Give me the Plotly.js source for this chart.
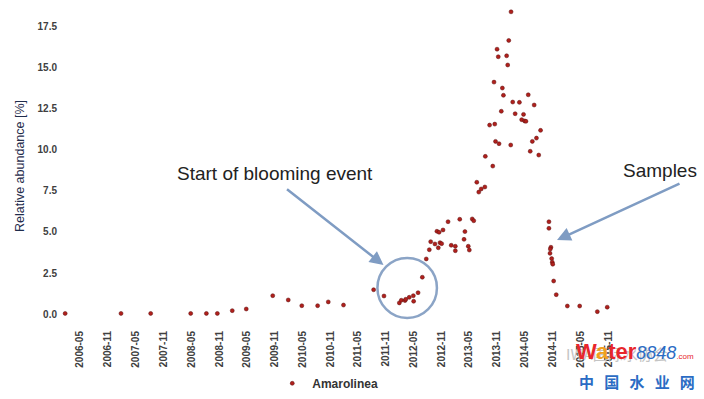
<!DOCTYPE html>
<html>
<head>
<meta charset="utf-8">
<script src="https://cdn.plot.ly/plotly-3.0.1.min.js"></script>
<style>
html,body{margin:0;padding:0;background:#fff;}
#chart{width:704px;height:399px;}
</style>
</head>
<body>
<div id="chart"></div>
<script>
// Sampling dates
const sampleDates = [
  '2006-01-23','2007-01-25','2007-08-08','2008-04-27','2008-08-08','2008-10-19','2009-01-25','2009-04-27',
  '2009-10-18','2010-01-28','2010-04-27','2010-08-09','2010-10-18','2011-01-26','2011-08-12','2011-10-19',
  '2012-01-28','2012-02-10','2012-03-05','2012-03-10','2012-04-02','2012-04-29','2012-05-01','2012-05-30',
  '2012-06-27','2012-07-23','2012-08-12','2012-08-21','2012-09-18','2012-10-01','2012-10-10','2012-10-15',
  '2012-10-21','2012-11-01','2012-11-10','2012-12-13','2013-01-03','2013-01-30','2013-01-30','2013-02-28',
  '2013-03-28','2013-04-03','2013-04-25','2013-05-02','2013-05-21','2013-05-31','2013-06-20','2013-07-03',
  '2013-07-19','2013-08-12','2013-08-15','2013-09-12','2013-10-03','2013-10-11','2013-10-16','2013-10-21',
  '2013-10-31','2013-11-08','2013-11-13','2013-11-28','2013-12-05','2013-12-12','2014-01-02','2014-01-09',
  '2014-01-16','2014-01-29','2014-01-31','2014-02-11','2014-02-27','2014-03-27','2014-04-11','2014-04-23',
  '2014-04-30','2014-05-09','2014-05-24','2014-06-06','2014-06-20','2014-07-02','2014-07-17','2014-08-01',
  '2014-08-13',
  '2014-10-07','2014-10-07','2014-10-20','2014-10-16','2014-10-14','2014-10-25','2014-10-29','2014-11-01',
  '2014-11-07','2014-11-24','2015-02-05','2015-04-27','2015-08-21','2015-10-25'
];
// Relative abundance of Amarolinea [%]
const amarolinea = [
  0.05,0.05,0.05,0.05,0.05,0.05,0.22,0.32,
  1.13,0.87,0.52,0.52,0.75,0.56,1.49,1.11,
  0.69,0.85,0.83,0.91,1.03,1.13,0.79,1.31,
  2.25,3.36,3.92,4.41,4.27,5.04,4.04,4.98,
  4.35,4.29,5.12,5.62,4.19,4.13,3.86,5.77,
  4.55,5.02,4.13,3.90,5.79,5.68,8.02,7.42,
  7.61,7.73,9.59,11.49,9.00,14.10,11.55,10.50,
  16.10,15.64,10.36,12.33,13.74,13.30,15.70,15.14,
  16.63,10.28,18.37,12.89,12.18,12.87,11.82,12.14,
  11.74,11.72,13.33,9.90,10.50,12.71,10.70,9.67,
  11.17,
  5.62,5.22,4.07,3.96,3.70,3.38,3.16,3.04,
  2.02,1.19,0.50,0.50,0.16,0.43
];
// Tick labels (every six months)
const tickLabels = [
  '2006-05','2006-11','2007-05','2007-11','2008-05','2008-11','2009-05','2009-11','2010-05','2010-11',
  '2011-05','2011-11','2012-05','2012-11','2013-05','2013-11','2014-05','2014-11','2015-05','2015-11'
];
const yTicks = [0, 2.5, 5, 7.5, 10, 12.5, 15, 17.5];

const arrowColor = '#7f9cc3';
const textFont = {family: 'Liberation Sans, Arial, sans-serif', size: 19, color: '#222'};

const trace = {
  type: 'scatter',
  mode: 'markers',
  name: 'Amarolinea',
  x: sampleDates,
  y: amarolinea,
  marker: {size: 4, color: '#b0201c', line: {color: '#5a0e0e', width: 0.5}},
  cliponaxis: false
};

const layout = {
  width: 704, height: 399,
  margin: {l: 58, r: 84, t: 10, b: 77, autoexpand: false},
  paper_bgcolor: '#fff', plot_bgcolor: '#fff',
  font: {family: 'Liberation Sans, Arial, sans-serif', color: '#3a3a3a'},
  showlegend: true,
  legend: {
    orientation: 'h', x: 0.48, xanchor: 'center', y: -0.15, yanchor: 'top',
    font: {size: 12, weight: 'bold', color: '#333'}, itemwidth: 30
  },
  xaxis: {
    type: 'date',
    range: ['2005-12-07', '2016-01-17'],
    tickmode: 'array', tickvals: tickLabels, ticktext: tickLabels,
    tickangle: -90, showgrid: false, zeroline: false, showline: false, ticks: '',
    tickfont: {size: 10, weight: 'bold', color: '#404040'},
    ticklabelstandoff: 6, automargin: false
  },
  yaxis: {
    range: [-0.47, 18.48],
    tickmode: 'array', tickvals: yTicks, tickformat: '.1f',
    showgrid: false, zeroline: false, showline: false, ticks: '',
    tickfont: {size: 10, weight: 'bold', color: '#404040'},
    automargin: false,
    title: {text: 'Relative abundance [%]', font: {size: 12.5, color: '#1f2c4c'}, standoff: 10}
  },
  shapes: [
    {type: 'circle', xref: 'x', yref: 'y', x0: '2011-09-06', x1: '2012-10-01', y0: -0.22, y1: 3.42,
     line: {color: '#8ba4c6', width: 2.5}}
  ],
  annotations: [
    {xref: 'x', yref: 'y', x: '2009-11-01', y: 8.58, text: 'Start of blooming event', showarrow: false, font: textFont},
    {xref: 'paper', yref: 'paper', x: 1.071, y: 0.487, xanchor: 'center', yanchor: 'middle', text: 'Samples', showarrow: false, font: textFont},
    {xref: 'x', yref: 'y', x: '2011-10-16', y: 2.99, text: '', showarrow: true, axref: 'pixel', ayref: 'pixel',
     ax: -98, ay: -77, arrowhead: 2, arrowsize: 1.1, arrowwidth: 2.5, arrowcolor: arrowColor},
    {xref: 'x', yref: 'y', x: '2014-11-29', y: 4.51, text: '', showarrow: true, axref: 'pixel', ayref: 'pixel',
     ax: 124, ay: -57, arrowhead: 2, arrowsize: 1.1, arrowwidth: 2.5, arrowcolor: arrowColor},
    // watermark
    {xref: 'paper', yref: 'paper', x: 0.9, y: -0.1, xanchor: 'left', yanchor: 'middle', text: 'IWA国际水协会', showarrow: false,
     font: {family: 'Noto Sans CJK SC', size: 15, color: '#c4c4c4'}},
    {xref: 'paper', yref: 'paper', x: 0.918, y: -0.095, xanchor: 'left', yanchor: 'middle',
     text: '<b><span style="color:#e8262b">W</span><span style="color:#f0a020">a</span><span style="color:#e8262b">ter</span></b><i><span style="color:#2b6cc4;font-size:18px">8848</span></i><span style="color:#e8262b;font-size:8px">.com</span>',
     showarrow: false, font: {family: 'Liberation Sans', size: 22, color: '#e8262b'}},
    {xref: 'paper', yref: 'paper', x: 0.924, y: -0.19, xanchor: 'left', yanchor: 'middle', text: '<b>中   国   水   业   网</b>', showarrow: false,
     font: {family: 'Noto Sans CJK SC', size: 15, color: '#2b6cc4'}}
  ]
};

Plotly.newPlot('chart', [trace], layout, {displayModeBar: false, staticPlot: true});
</script>
</body>
</html>
